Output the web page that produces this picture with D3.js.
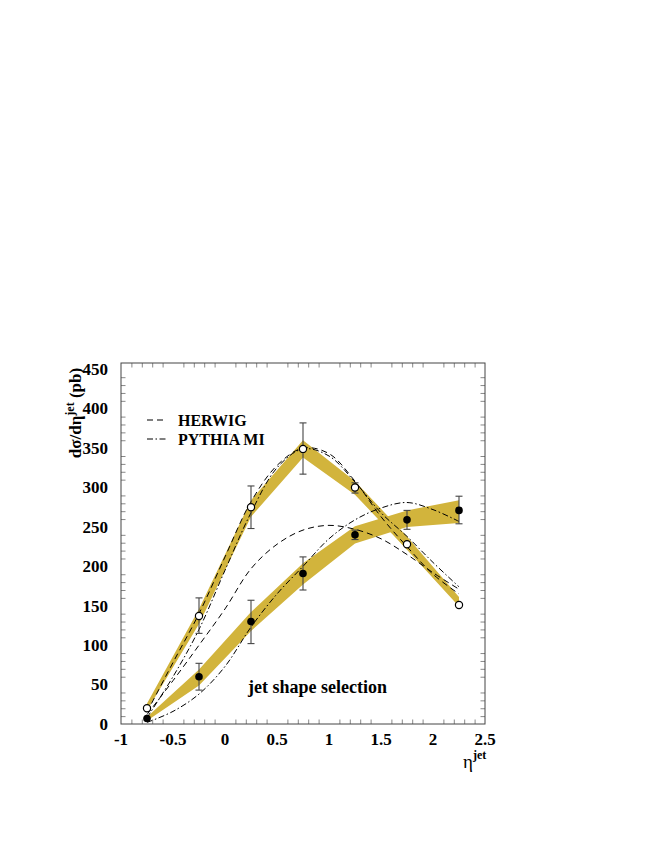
<!DOCTYPE html>
<html><head><meta charset="utf-8">
<script src="https://cdn.jsdelivr.net/npm/d3@7"></script>
<style>
html,body{margin:0;padding:0;background:#fff;}
svg{display:block;}
text{font-family:"Liberation Serif","Times New Roman",serif;}
</style></head>
<body>
<svg id="chart" width="654" height="846"></svg>
<script>
// ---- data ----
const etaBins = [-0.75, -0.25, 0.25, 0.75, 1.25, 1.75, 2.25];
const openVals     = [20, 137, 275, 349, 300, 228, 151];
const openErrLo    = [18, 115, 248, 317, 293, 225, 148];
const openErrHi    = [22, 160, 302, 382, 306, 231, 155];
const openBandLo   = [17, 127, 263, 338, 291, 221, 149];
const openBandHi   = [26, 146, 284, 360, 308, 238, 161];
const filledVals   = [7, 60, 130, 191, 240, 259, 271];
const filledErrLo  = [5, 43, 102, 170, 234, 247, 254];
const filledErrHi  = [9, 77, 157, 212, 246, 271, 289];
const filledBandLo = [4, 49, 118, 177, 229, 250, 255];
const filledBandHi = [9, 69, 142, 204, 251, 271, 284];

const curveEta     = [-0.75, -0.5, -0.25, 0, 0.25, 0.5, 0.75, 1.0, 1.25, 1.5, 1.75, 2.0, 2.25];
const herwigOpen   = [15, 78, 140, 212, 282, 328, 350, 343, 308, 263, 225, 190, 165];
const pythiaOpen   = [8, 60, 120, 195, 268, 325, 349, 340, 307, 268, 238, 205, 174];
const herwigFilled = [12, 55, 100, 146, 197, 228, 246, 252, 247, 235, 215, 192, 171];
const pythiaFilled = [2, 16, 38, 73, 123, 165, 200, 235, 259, 274, 281, 272, 257];

const xMajorTicks = [-1, -0.5, 0, 0.5, 1, 1.5, 2, 2.5];
const xTickLabels = ["-1", "-0.5", "0", "0.5", "1", "1.5", "2", "2.5"];
const yMajorTicks = [0, 50, 100, 150, 200, 250, 300, 350, 400, 450];
const legendLabels = ["HERWIG", "PYTHIA MI"];

// ---- layout ----
const L = 121, R = 485, T = 363, B = 724;
const svg = d3.select("#chart");
const x = d3.scaleLinear().domain([-1, 2.5]).range([L, R]);
const y = d3.scaleLinear().domain([0, 458]).range([B, T]);
const band = "#d2b43c";

// bands
const mkBand = (lo, hi) => d3.area()
  .x((d, i) => x(etaBins[i]))
  .y0((d, i) => y(lo[i]))
  .y1((d, i) => y(hi[i]));
svg.append("path").attr("d", mkBand(openBandLo, openBandHi)(etaBins)).attr("fill", band);
svg.append("path").attr("d", mkBand(filledBandLo, filledBandHi)(etaBins)).attr("fill", band);

// curves
const mkLine = vals => d3.line()
  .x((d, i) => x(curveEta[i]))
  .y((d, i) => y(vals[i]))
  .curve(d3.curveCatmullRom.alpha(0.5))(curveEta);
const dashed = "6,4", dashDot = "6,2.5,1.5,2.5";
[[herwigOpen, dashed], [herwigFilled, dashed], [pythiaOpen, dashDot], [pythiaFilled, dashDot]]
  .forEach(([v, da]) => {
    svg.append("path").attr("d", mkLine(v)).attr("fill", "none")
      .attr("stroke", "#000").attr("stroke-width", 1).attr("stroke-dasharray", da);
  });

// error bars
function errBars(lo, hi) {
  const g = svg.append("g").attr("stroke", "#444").attr("stroke-width", 1.1);
  etaBins.forEach((e, i) => {
    const cx = x(e), y0 = y(lo[i]), y1 = y(hi[i]);
    if (Math.abs(y0 - y1) < 6) return;
    g.append("line").attr("x1", cx).attr("x2", cx).attr("y1", y0).attr("y2", y1);
    g.append("line").attr("x1", cx - 3.5).attr("x2", cx + 3.5).attr("y1", y0).attr("y2", y0);
    g.append("line").attr("x1", cx - 3.5).attr("x2", cx + 3.5).attr("y1", y1).attr("y2", y1);
  });
}
errBars(openErrLo, openErrHi);
errBars(filledErrLo, filledErrHi);

// markers
svg.append("g").selectAll("circle").data(filledVals).join("circle")
  .attr("cx", (d, i) => x(etaBins[i])).attr("cy", d => y(d)).attr("r", 3.8).attr("fill", "#000");
svg.append("g").selectAll("circle").data(openVals).join("circle")
  .attr("cx", (d, i) => x(etaBins[i])).attr("cy", d => y(d)).attr("r", 3.6)
  .attr("fill", "#fff").attr("stroke", "#000").attr("stroke-width", 1.2);

// axes ticks (inward, mirrored)
const xMinor = d3.range(-10, 26).map(v => v / 10).filter(v => !xMajorTicks.some(m => Math.abs(m - v) < 1e-9));
const yMinor = d3.range(0, 460, 10).filter(v => v % 50 !== 0);
const tickCol = "#888";
function ticks(axis, vals, size) {
  return axis.tickValues(vals).tickSize(size).tickFormat("");
}
const gx1 = svg.append("g").attr("transform", `translate(0,${B})`);
gx1.call(ticks(d3.axisBottom(x), xMajorTicks, -9));
gx1.call(ticks(d3.axisBottom(x), xMinor, -4.5));
const gx2 = svg.append("g").attr("transform", `translate(0,${T})`);
gx2.call(ticks(d3.axisTop(x), xMajorTicks, -9));
gx2.call(ticks(d3.axisTop(x), xMinor, -4.5));
const gy1 = svg.append("g").attr("transform", `translate(${L},0)`);
gy1.call(ticks(d3.axisLeft(y), yMajorTicks, -9));
gy1.call(ticks(d3.axisLeft(y), yMinor, -4.5));
const gy2 = svg.append("g").attr("transform", `translate(${R},0)`);
gy2.call(ticks(d3.axisRight(y), yMajorTicks, -9));
gy2.call(ticks(d3.axisRight(y), yMinor, -4.5));
svg.selectAll(".domain").remove();
svg.selectAll(".tick line").attr("stroke", tickCol);

// frame
svg.append("rect").attr("x", L).attr("y", T).attr("width", R - L).attr("height", B - T)
  .attr("fill", "none").attr("stroke", "#444").attr("stroke-width", 1);

// tick labels
svg.append("g").selectAll("text").data(xMajorTicks).join("text")
  .attr("x", d => x(d)).attr("y", 745).attr("text-anchor", "middle")
  .attr("font-size", 17).attr("font-weight", "bold")
  .text((d, i) => xTickLabels[i]);
svg.append("g").selectAll("text").data(yMajorTicks).join("text")
  .attr("x", 108).attr("y", d => y(d)).attr("dy", "0.34em").attr("text-anchor", "end")
  .attr("font-size", 17).attr("font-weight", "bold")
  .text(d => d);

// y axis title
const yt = svg.append("text").attr("transform", "translate(81,413) rotate(-90)")
  .attr("text-anchor", "middle").attr("font-size", 17).attr("font-weight", "bold");
yt.append("tspan").text("dσ/dη");
yt.append("tspan").attr("dy", -7).attr("font-size", 12).text("jet");
yt.append("tspan").attr("dy", 7).text(" (pb)");

// x axis title
const xt = svg.append("text").attr("x", 463).attr("y", 768).attr("font-size", 19);
xt.append("tspan").text("η");
xt.append("tspan").attr("dy", -9).attr("font-size", 12).attr("font-weight", "bold").text("jet");

// legend
const legY = [420, 439];
[dashed, dashDot].forEach((da, i) => {
  svg.append("line").attr("x1", 147).attr("x2", 166).attr("y1", legY[i]).attr("y2", legY[i])
    .attr("stroke", "#000").attr("stroke-width", 1).attr("stroke-dasharray", da);
  svg.append("text").attr("x", 178).attr("y", legY[i] + 6)
    .attr("font-size", 16).attr("font-weight", "bold").text(legendLabels[i]);
});

// annotation
svg.append("text").attr("x", 248).attr("y", 693).attr("font-size", 18).attr("font-weight", "bold")
  .text("jet shape selection");
</script>
</body></html>
